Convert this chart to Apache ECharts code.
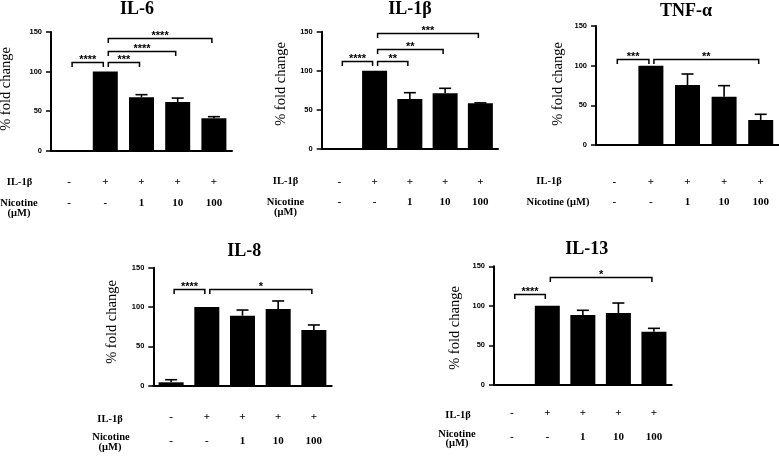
<!DOCTYPE html>
<html>
<head>
<meta charset="utf-8">
<script src="https://cdn.jsdelivr.net/npm/echarts@6/dist/echarts.min.js"></script>
<style>
html,body{margin:0;padding:0;background:#fff;}
#chart{width:779px;height:459px;}
</style>
</head>
<body>
<div id="chart"></div>
<script>
// ---- data ----
const categories = ['Control', 'IL-1β', 'IL-1β + Nicotine 1', 'IL-1β + Nicotine 10', 'IL-1β + Nicotine 100'];
const il1bRow = ['-', '+', '+', '+', '+'];
const nicotineRow = ['-', '-', '1', '10', '100'];
const yTicks = [0, 50, 100, 150];

const il6Mean = [0, 100, 67.5, 61.5, 41];
const il6Err = [0, 0, 3.3, 5, 2];
const il6Sig = [[0, 1, 112, '****'], [1, 2, 112, '***'], [1, 3, 126, '****'], [1, 4, 143, '****']];

const il1bMean = [0, 100, 64, 71.2, 58.4];
const il1bErr = [0, 0, 8, 6.4, 0.6];
const il1bSig = [[0, 1, 112.5, '****'], [1, 2, 112.5, '**'], [1, 3, 128, '**'], [1, 4, 148.5, '***']];

const tnfMean = [0, 100, 75.6, 60.9, 31.5];
const tnfErr = [0, 0, 13.9, 13.9, 7.2];
const tnfSig = [[0, 1, 108, '***'], [1, 4, 108, '**']];

const il8Mean = [4.3, 100, 89, 97.5, 70.8];
const il8Err = [3.3, 0, 7.2, 10.2, 6.4];
const il8Sig = [[0, 1, 122.5, '****'], [1, 4, 122.5, '*']];

const il13Mean = [0, 100, 88.5, 91, 67.4];
const il13Err = [0, 0, 5.9, 12.6, 4.2];
const il13Sig = [[0, 1, 115, '****'], [1, 4, 136, '*']];

// ---- layout ----
const SERIF = '"Liberation Serif", "Times New Roman", serif';
const SANS = '"Liberation Sans", Arial, sans-serif';

const panels = [
  {title: 'IL-6', mean: il6Mean, err: il6Err, sig: il6Sig,
   grid: {left: 51, top: 32, width: 181, height: 118.7}, lblMargin: 20.6, lblLH: 21.3,
   titlePos: [137, 9], yLabel: [6, 89],
   rowLabels: [['IL-1β', 19.5, 182.5], ['Nicotine', 19, 203.5], ['(μM)', 19, 213]]},
  {title: 'IL-1β', mean: il1bMean, err: il1bErr, sig: il1bSig,
   grid: {left: 321.7, top: 31.7, width: 176.3, height: 117.3}, lblMargin: 22.7, lblLH: 20,
   titlePos: [410, 9], yLabel: [281, 84],
   rowLabels: [['IL-1β', 285.5, 181], ['Nicotine', 285.5, 202.5], ['(μM)', 285.5, 212]]},
  {title: 'TNF-α', mean: tnfMean, err: tnfErr, sig: tnfSig,
   grid: {left: 596, top: 26, width: 183, height: 119}, lblMargin: 26.4, lblLH: 20.6,
   titlePos: [686, 11], yLabel: [558, 84],
   rowLabels: [['IL-1β', 549, 181.7], ['Nicotine (μM)', 558, 202.3]]},
  {title: 'IL-8', mean: il8Mean, err: il8Err, sig: il8Sig,
   grid: {left: 153.3, top: 267.7, width: 178.4, height: 118}, lblMargin: 20.3, lblLH: 23.3,
   titlePos: [244.3, 251], yLabel: [112, 322],
   rowLabels: [['IL-1β', 110, 419], ['Nicotine', 111, 437.7], ['(μM)', 110, 447]]},
  {title: 'IL-13', mean: il13Mean, err: il13Err, sig: il13Sig,
   grid: {left: 494, top: 266.3, width: 177.7, height: 118.7}, lblMargin: 16.6, lblLH: 23.4,
   titlePos: [586.7, 249], yLabel: [455, 328],
   rowLabels: [['IL-1β', 458, 415], ['Nicotine', 457, 434.3], ['(μM)', 457, 443]]}
];

function textEl(text, x, y, font, rotation) {
  return {
    type: 'text', x: x, y: y, rotation: rotation || 0, silent: true,
    style: {text: text, x: 0, y: 0, font: font, fill: '#000',
      align: 'center', verticalAlign: 'middle', textAlign: 'center', textVerticalAlign: 'middle'}
  };
}

const grids = [], xAxes = [], yAxes = [], series = [], graphics = [];

panels.forEach((p, k) => {
  grids.push(Object.assign({containLabel: false}, p.grid));
  xAxes.push({
    type: 'category', gridIndex: k, data: categories, boundaryGap: true,
    axisLine: {lineStyle: {color: '#000', width: 2}},
    axisTick: {alignWithLabel: true, length: 4, lineStyle: {color: '#000', width: 1.5}},
    axisLabel: {
      interval: 0, margin: p.lblMargin,
      formatter: (v, i) => '{a|' + il1bRow[i] + '}\n{a|' + nicotineRow[i] + '}',
      rich: {a: {fontFamily: SERIF, fontWeight: 'bold', fontSize: 11, lineHeight: p.lblLH, color: '#000', align: 'center'}}
    },
    splitLine: {show: false}
  });
  yAxes.push({
    type: 'value', gridIndex: k, min: yTicks[0], max: yTicks[yTicks.length - 1], interval: yTicks[1] - yTicks[0],
    axisLine: {show: true, lineStyle: {color: '#000', width: 2}},
    axisTick: {show: true, length: 5, lineStyle: {color: '#000', width: 1.5}},
    axisLabel: {margin: 9, fontFamily: SANS, fontWeight: 'bold', fontSize: 7.5, color: '#000'},
    splitLine: {show: false}
  });
  series.push({
    type: 'bar', xAxisIndex: k, yAxisIndex: k, data: p.mean, barWidth: 25,
    itemStyle: {color: '#000'}, silent: true, animation: false
  });
  series.push({
    type: 'custom', xAxisIndex: k, yAxisIndex: k, animation: false, silent: true,
    data: p.mean.map((m, i) => [i, m, p.err[i]]),
    encode: {x: 0, y: 1},
    renderItem: (params, api) => {
      const i = api.value(0), m = api.value(1), e = api.value(2);
      if (!e) return null;
      const a = api.coord([i, m]), b = api.coord([i, m + e]);
      const st = {stroke: '#000', lineWidth: 1.6};
      return {type: 'group', children: [
        {type: 'line', shape: {x1: a[0], y1: a[1], x2: b[0], y2: b[1]}, style: st},
        {type: 'line', shape: {x1: b[0] - 6, y1: b[1], x2: b[0] + 6, y2: b[1]}, style: st}
      ]};
    }
  });
  series.push({
    type: 'custom', xAxisIndex: k, yAxisIndex: k, animation: false, silent: true,
    data: p.sig.map(s => [s[0], s[2], s[1]]),
    encode: {x: 0, y: 1},
    renderItem: (params, api) => {
      const s = p.sig[params.dataIndex];
      const a = api.coord([s[0], s[2]]), b = api.coord([s[1], s[2]]);
      const x1 = a[0] + 3, x2 = b[0] - 2, y = Math.round(a[1]) + 0.5;
      return {type: 'group', children: [
        {type: 'polyline', shape: {points: [[x1, y + 4.5], [x1, y], [x2, y], [x2, y + 4.5]]},
         style: {stroke: '#000', lineWidth: 1.5, fill: null}},
        {type: 'text', style: {text: s[3], x: (x1 + x2) / 2, y: y - 3,
          font: 'bold 11px ' + SANS, fill: '#000',
          align: 'center', verticalAlign: 'middle', textAlign: 'center', textVerticalAlign: 'middle'}}
      ]};
    }
  });
  graphics.push(textEl(p.title, p.titlePos[0], p.titlePos[1], 'bold 18px ' + SERIF));
  graphics.push(textEl('% fold change', p.yLabel[0], p.yLabel[1], '14.5px ' + SERIF, Math.PI / 2));
  p.rowLabels.forEach(r => graphics.push(textEl(r[0], r[1], r[2], 'bold 10.5px ' + SERIF)));
});

const chart = echarts.init(document.getElementById('chart'), null, {renderer: 'canvas'});
chart.setOption({
  animation: false,
  backgroundColor: '#fff',
  grid: grids, xAxis: xAxes, yAxis: yAxes, series: series,
  graphic: {elements: graphics}
});
</script>
</body>
</html>
